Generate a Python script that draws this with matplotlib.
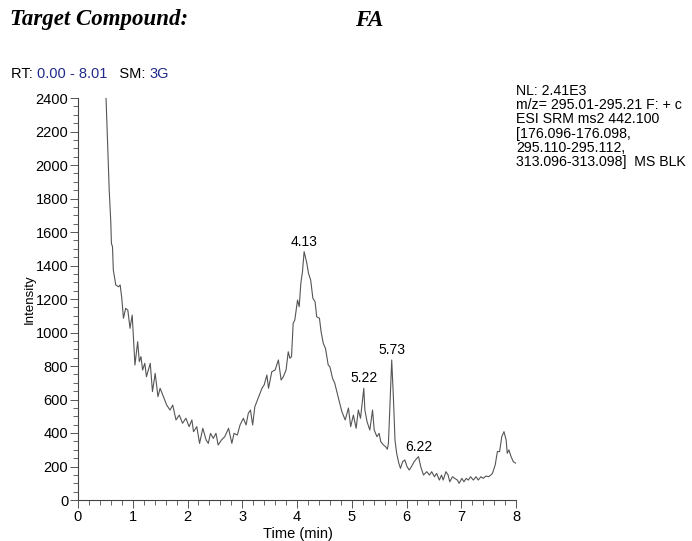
import matplotlib
matplotlib.use("Agg")
import matplotlib.pyplot as plt
from matplotlib.ticker import MultipleLocator

plt.rcParams['font.family'] = ['Liberation Sans', 'DejaVu Sans']

# chromatogram trace (time in min, intensity)
time_min = [
    0.51, 0.55, 0.57, 0.60, 0.61, 0.63, 0.645, 0.69, 0.74, 0.77, 0.80, 0.83, 0.87, 0.91,
    0.95, 0.99, 1.04, 1.09, 1.12, 1.15, 1.18, 1.22, 1.25, 1.32, 1.36, 1.41, 1.46, 1.50,
    1.56, 1.62, 1.68, 1.73, 1.79, 1.85, 1.91, 1.97, 2.03, 2.08, 2.11, 2.17, 2.22, 2.28,
    2.34, 2.38, 2.42, 2.47, 2.52, 2.56, 2.62, 2.68, 2.75, 2.81, 2.85, 2.91, 2.96, 3.02,
    3.07, 3.11, 3.15, 3.19, 3.23, 3.29, 3.36, 3.40, 3.45, 3.48, 3.54, 3.60, 3.66, 3.71,
    3.75, 3.80, 3.84, 3.87, 3.90, 3.93, 3.96, 4.01, 4.04, 4.07, 4.10, 4.13, 4.18, 4.21,
    4.25, 4.29, 4.33, 4.36, 4.41, 4.44, 4.48, 4.52, 4.57, 4.60, 4.65, 4.69, 4.75, 4.82,
    4.88, 4.94, 4.98, 5.03, 5.08, 5.12, 5.16, 5.22, 5.24, 5.28, 5.33, 5.38, 5.41, 5.46,
    5.50, 5.53, 5.58, 5.62, 5.65, 5.67, 5.73, 5.76, 5.79, 5.82, 5.86, 5.89, 5.93, 5.97,
    6.01, 6.05, 6.09, 6.14, 6.19, 6.22, 6.26, 6.31, 6.37, 6.42, 6.46, 6.51, 6.55, 6.60,
    6.64, 6.67, 6.72, 6.76, 6.79, 6.84, 6.88, 6.93, 6.96, 7.01, 7.05, 7.09, 7.13, 7.17,
    7.22, 7.27, 7.31, 7.36, 7.40, 7.45, 7.50, 7.54, 7.57, 7.62, 7.66, 7.70, 7.74, 7.78,
    7.82, 7.84, 7.87, 7.91, 7.95, 8.00,
]
intensity = [
    2420, 2050, 1851, 1652, 1532, 1512, 1373, 1284, 1273, 1284, 1204, 1085, 1144, 1134,
    1025, 1104, 806, 945, 826, 856, 776, 816, 736, 816, 647, 756, 617, 667,
    617, 567, 537, 567, 478, 507, 458, 488, 438, 478, 408, 438, 338, 428,
    358, 338, 398, 368, 398, 328, 358, 378, 428, 338, 398, 388, 448, 488,
    448, 517, 537, 448, 557, 607, 667, 687, 746, 667, 766, 776, 836, 716,
    736, 776, 885, 846, 856, 1055, 1075, 1194, 1154, 1294, 1363, 1483, 1413, 1353,
    1313, 1204, 1184, 1094, 1085, 1005, 935, 905, 806, 796, 726, 697, 617, 527,
    478, 549, 438, 507, 428, 537, 488, 667, 537, 467, 418, 537, 418, 378,
    398, 348, 328, 318, 303, 338, 836, 617, 358, 279, 219, 189, 229, 239,
    199, 179, 199, 229, 249, 259, 199, 149, 169, 149, 169, 139, 159, 119,
    149, 119, 169, 149, 109, 139, 129, 119, 99, 129, 109, 129, 119, 139,
    119, 139, 119, 139, 129, 143, 139, 149, 159, 209, 289, 289, 378, 408,
    358, 279, 299, 259, 229, 219,
]

# labelled peaks
peak_labels = ['4.13', '5.22', '5.73', '6.22']
peak_times = [4.13, 5.22, 5.73, 6.22]
peak_heights = [1483, 667, 836, 259]

info_lines = [
    'NL: 2.41E3',
    'm/z= 295.01-295.21 F: + c',
    'ESI SRM ms2 442.100',
    '[176.096-176.098,',
    '295.110-295.112,',
    '313.096-313.098]  MS BLK',
]

fig = plt.figure(figsize=(6.92, 5.41), dpi=100)
ax = fig.add_axes([78 / 692, 1 - 500 / 541, 438 / 692, 402 / 541])

ax.plot(time_min, intensity, color='#555555', lw=0.8, clip_on=True)

ax.set_xlim(0, 8)
ax.set_ylim(0, 2400)
for s in ['top', 'right']:
    ax.spines[s].set_visible(False)
for s in ['left', 'bottom']:
    ax.spines[s].set_color('#444444')
    ax.spines[s].set_linewidth(0.8)

ax.xaxis.set_major_locator(MultipleLocator(1))
ax.xaxis.set_minor_locator(MultipleLocator(0.2))
ax.yaxis.set_major_locator(MultipleLocator(200))
ax.yaxis.set_minor_locator(MultipleLocator(50))
ax.tick_params(axis='y', which='major', length=6, width=0.7, color='#555555',
               labelsize=10.5, pad=1)
ax.tick_params(axis='x', which='major', length=5.5, width=0.7, color='#555555',
               labelsize=10.5, pad=1.5)
ax.tick_params(which='minor', length=3.5, width=0.7, color='#666666')

for lab, t, h in zip(peak_labels, peak_times, peak_heights):
    ax.annotate(lab, (t, h), xytext=(0, 2), textcoords='offset points',
                ha='center', va='bottom', fontsize=10)

ax.set_xlabel('Time (min)', fontsize=10.5)
ax.set_ylabel('Intensity', fontsize=9.5)
ax.xaxis.set_label_coords(0.502, -0.068)
ax.yaxis.set_label_coords(-0.097, 0.5)

# header texts
fig.text(10 / 692, 1 - 20 / 541, 'Target Compound:', family='Liberation Serif',
         style='italic', weight='bold', fontsize=16.5, va='center')
fig.text(355 / 692, 1 - 20 / 541, 'FA', family='Liberation Serif',
         style='italic', weight='bold', fontsize=16.5, va='center')

x0 = 11 / 692
y_rt = 1 - 74 / 541
parts = [('RT: ', 'black'), ('0.00 - 8.01', '#1f2a8a'), ('   SM: ', 'black'), ('3G', '#1f2a8a')]
renderer = fig.canvas.get_renderer()
for txt, col in parts:
    t = fig.text(x0, y_rt, txt, color=col, fontsize=10.5, va='center')
    bb = t.get_window_extent(renderer=renderer)
    x0 += bb.width / fig.bbox.width

for i, line in enumerate(info_lines):
    fig.text(516 / 692, 1 - (91 + i * 14.2) / 541, line, fontsize=10.2, va='center')

fig.savefig('out.png', dpi=100)
